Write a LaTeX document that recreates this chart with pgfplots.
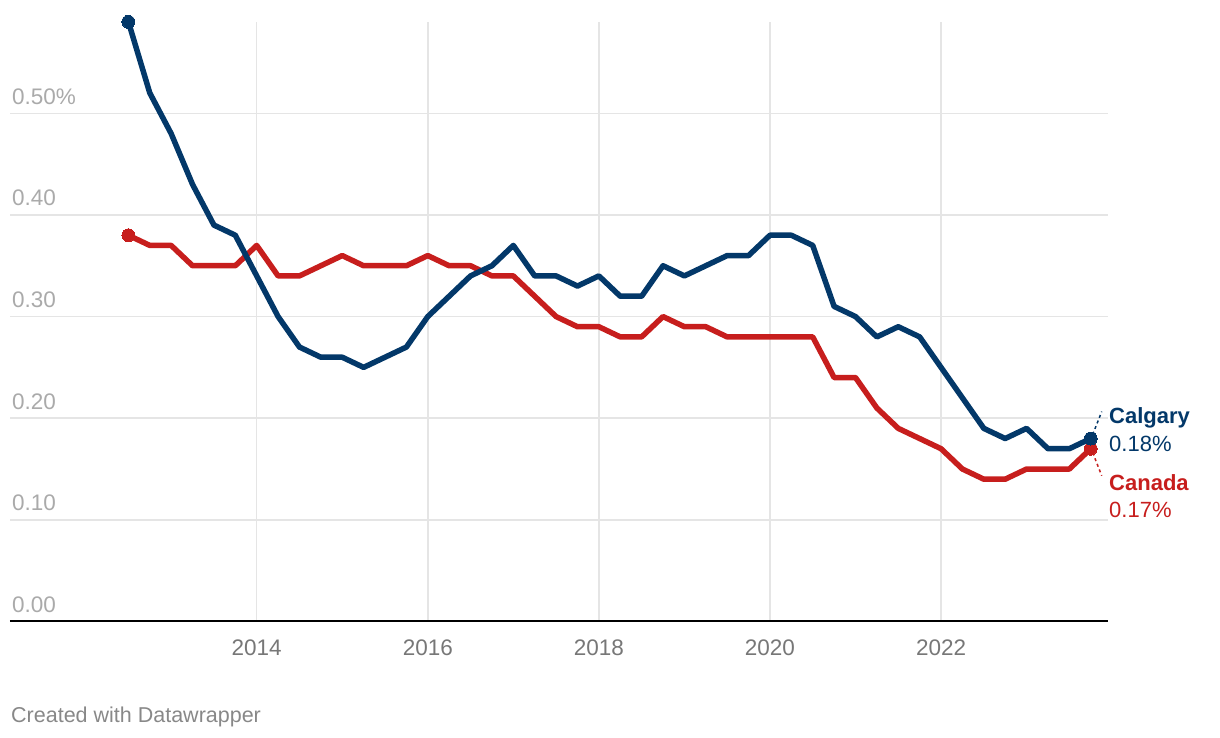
\documentclass[border=0pt]{standalone}
\usepackage{fontspec}
\setmainfont{Liberation Sans}
\usepackage{pgfplots}
\usepackage{pgfplotstable}
\pgfplotsset{compat=1.18}
\definecolor{navy}{HTML}{033869}
\definecolor{dwred}{HTML}{C71E1D}
\definecolor{gridc}{HTML}{E5E5E5}
\definecolor{ylab}{HTML}{AAAAAA}
\definecolor{xlab}{HTML}{777777}
\definecolor{credit}{HTML}{888888}

\pgfplotstableread{
x y
2012.5 0.59
2012.75 0.52
2013.0 0.48
2013.25 0.43
2013.5 0.39
2013.75 0.38
2014.0 0.34
2014.25 0.30
2014.5 0.27
2014.75 0.26
2015.0 0.26
2015.25 0.25
2015.5 0.26
2015.75 0.27
2016.0 0.30
2016.25 0.32
2016.5 0.34
2016.75 0.35
2017.0 0.37
2017.25 0.34
2017.5 0.34
2017.75 0.33
2018.0 0.34
2018.25 0.32
2018.5 0.32
2018.75 0.35
2019.0 0.34
2019.25 0.35
2019.5 0.36
2019.75 0.36
2020.0 0.38
2020.25 0.38
2020.5 0.37
2020.75 0.31
2021.0 0.30
2021.25 0.28
2021.5 0.29
2021.75 0.28
2022.0 0.25
2022.25 0.22
2022.5 0.19
2022.75 0.18
2023.0 0.19
2023.25 0.17
2023.5 0.17
2023.75 0.18
}\calgary

\pgfplotstableread{
x y
2012.5 0.38
2012.75 0.37
2013.0 0.37
2013.25 0.35
2013.5 0.35
2013.75 0.35
2014.0 0.37
2014.25 0.34
2014.5 0.34
2014.75 0.35
2015.0 0.36
2015.25 0.35
2015.5 0.35
2015.75 0.35
2016.0 0.36
2016.25 0.35
2016.5 0.35
2016.75 0.34
2017.0 0.34
2017.25 0.32
2017.5 0.30
2017.75 0.29
2018.0 0.29
2018.25 0.28
2018.5 0.28
2018.75 0.30
2019.0 0.29
2019.25 0.29
2019.5 0.28
2019.75 0.28
2020.0 0.28
2020.25 0.28
2020.5 0.28
2020.75 0.24
2021.0 0.24
2021.25 0.21
2021.5 0.19
2021.75 0.18
2022.0 0.17
2022.25 0.15
2022.5 0.14
2022.75 0.14
2023.0 0.15
2023.25 0.15
2023.5 0.15
2023.75 0.17
}\canada

\begin{document}
\begin{tikzpicture}
\useasboundingbox (0,0) rectangle (1220pt,738pt);
\begin{axis}[
  at={(10pt,116.5pt)}, anchor=south west,
  scale only axis, width=1098pt, height=599.7pt,
  xmin=2011.116, xmax=2023.952, ymin=0, ymax=0.59,
  axis line style={draw=none},
  major tick length=0pt,
  xtick={2014,2016,2018,2020,2022},
  xticklabels={2014,2016,2018,2020,2022},
  ytick={0,0.1,0.2,0.3,0.4,0.5},
  yticklabels={0.00,0.10,0.20,0.30,0.40,0.50\%},
  grid=major,
  major grid style={gridc, line width=1.5pt},
  ticklabel style={font=\fontsize{22.5}{27}\selectfont},
  yticklabel style={anchor=base west, inner sep=0pt, xshift=2pt, yshift=9pt, text=ylab},
  xticklabel style={anchor=base, inner sep=0pt, yshift=-34.5pt, text=xlab},
  clip=false,
]
\draw[black, line width=2pt] (rel axis cs:0,0) -- (rel axis cs:1,0);
\addplot[dwred, line width=5.5pt, line join=round, mark=*, mark indices={1,46}, mark size=6.5pt,
  mark options={solid, fill=dwred, draw=dwred, line width=0pt}] table[x=x,y=y]{\canada};
\addplot[navy, line width=5.5pt, line join=round, mark=*, mark indices={1,46}, mark size=6.5pt,
  mark options={solid, fill=navy, draw=navy, line width=0pt}] table[x=x,y=y]{\calgary};
\draw[navy, line width=1.5pt, dash pattern=on 3pt off 3pt] ([xshift=2pt,yshift=4pt]axis cs:2023.75,0.18) -- ([xshift=11pt,yshift=27pt]axis cs:2023.75,0.18);
\draw[dwred, line width=1.5pt, dash pattern=on 3pt off 3pt] ([xshift=2pt,yshift=-4pt]axis cs:2023.75,0.17) -- ([xshift=11pt,yshift=-27pt]axis cs:2023.75,0.17);
\node[anchor=base west, inner sep=0pt, text=navy, font=\bfseries\fontsize{22}{26}\selectfont] at ([xshift=18.3pt,yshift=15.2pt]axis cs:2023.75,0.18) {Calgary};
\node[anchor=base west, inner sep=0pt, text=navy, font=\fontsize{22}{26}\selectfont] at ([xshift=18.3pt,yshift=-13.2pt]axis cs:2023.75,0.18) {0.18\%};
\node[anchor=base west, inner sep=0pt, text=dwred, font=\bfseries\fontsize{22}{26}\selectfont] at ([xshift=18.3pt,yshift=-41.3pt]axis cs:2023.75,0.17) {Canada};
\node[anchor=base west, inner sep=0pt, text=dwred, font=\fontsize{22}{26}\selectfont] at ([xshift=18.3pt,yshift=-69pt]axis cs:2023.75,0.17) {0.17\%};
\end{axis}
\node[anchor=base west, inner sep=0pt, text=credit, font=\fontsize{21.5}{25}\selectfont] at (11pt,15.7pt) {Created with Datawrapper};
\end{tikzpicture}
\end{document}
